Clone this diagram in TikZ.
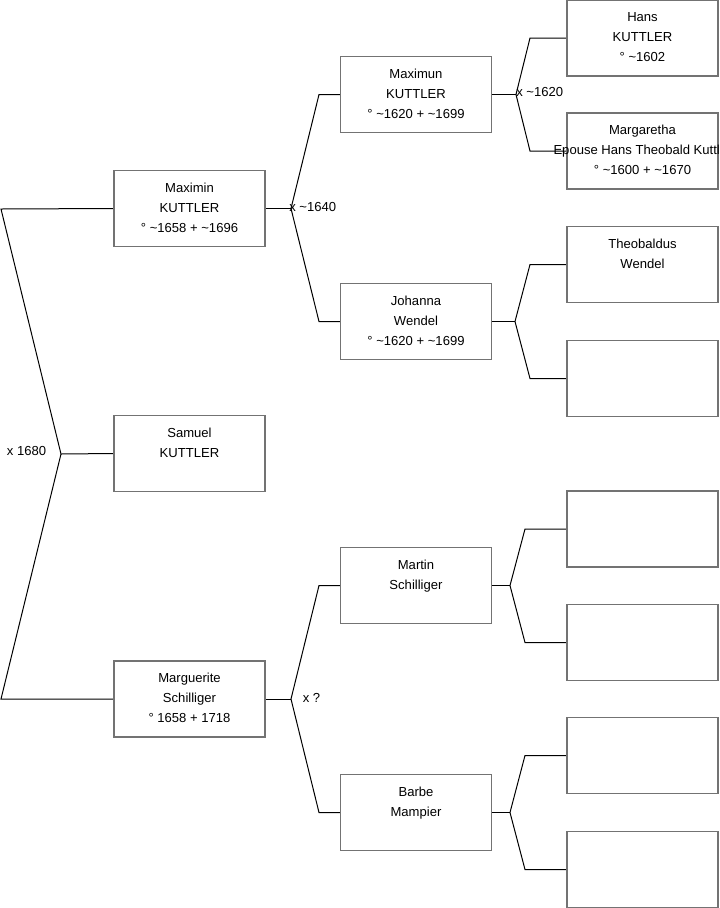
\documentclass[tikz,border=0pt]{standalone}
\usepackage{fontspec}
\setmainfont{Liberation Sans}
\usepackage{tikz}
\pgfdeclarelayer{edgelayer}
\pgfdeclarelayer{nodelayer}
\pgfsetlayers{edgelayer,nodelayer,main}
\tikzstyle{edge}=[draw=black, line width=0.75pt]
\tikzstyle{person}=[rectangle, draw=black!55, line width=1pt, minimum width=113.25pt, minimum height=57pt, inner sep=0pt]
\tikzstyle{persontext}=[align=center, anchor=north, inner sep=0pt, font=\fontsize{9.8pt}{15pt}\selectfont]
\tikzstyle{marriage}=[inner sep=0pt, font=\fontsize{9.8pt}{11pt}\selectfont]
\newcommand{\ca}{\textasciitilde}

\begin{document}
\begin{tikzpicture}[x=0.75pt, y=-0.75pt]
				\useasboundingbox (0, 0) rectangle (719, 908);
				\begin{pgfonlayer}{nodelayer}
					\node [style=person] (0) at (189.5, 208.5) {};
					\node [style=person] (1) at (189.5, 453.5) {};
					\node [style=person] (2) at (189.5, 699) {};
					\node [style=person] (3) at (416, 94.5) {};
					\node [style=person] (4) at (416, 321.5) {};
					\node [style=person] (5) at (416, 585.5) {};
					\node [style=person] (6) at (416, 812.5) {};
					\node [style=person] (7) at (642.5, 38) {};
					\node [style=person] (8) at (642.5, 151) {};
					\node [style=person] (9) at (642.5, 264.5) {};
					\node [style=person] (10) at (642.5, 378.5) {};
					\node [style=person] (11) at (642.5, 529) {};
					\node [style=person] (12) at (642.5, 642.5) {};
					\node [style=person] (13) at (642.5, 755.5) {};
					\node [style=person] (14) at (642.5, 869.5) {};
					\node [style=persontext] (n0) at (189.5, 182.5) {Maximin\\KUTTLER\\° \ca1658 + \ca1696};
					\node [style=persontext] (n1) at (189.5, 427.5) {Samuel\\KUTTLER};
					\node [style=persontext] (n2) at (189.5, 673) {Marguerite\\Schilliger\\° 1658 + 1718};
					\node [style=persontext] (n3) at (416, 68.5) {Maximun\\KUTTLER\\° \ca1620 + \ca1699};
					\node [style=persontext] (n4) at (416, 295.5) {Johanna\\Wendel\\° \ca1620 + \ca1699};
					\node [style=persontext] (n5) at (416, 559.5) {Martin\\Schilliger};
					\node [style=persontext] (n6) at (416, 786.5) {Barbe\\Mampier};
					\node [style=persontext] (n7) at (642.5, 12) {Hans\\KUTTLER\\° \ca1602};
					\node [style=persontext] (n8) at (642.5, 125) {Margaretha\\Epouse Hans Theobald Kuttler\\° \ca1600 + \ca1670};
					\node [style=persontext] (n9) at (642.5, 238.5) {Theobaldus\\Wendel};
					\node [style=marriage] (u0) at (26.5, 451) {x 1680};
					\node [style=marriage, anchor=west] (u1) at (289, 207) {x \ca1640};
					\node [style=marriage, anchor=west] (u2) at (516, 92) {x \ca1620};
					\node [style=marriage] (u3) at (311.5, 698) {x ?};
				\end{pgfonlayer}
				\begin{pgfonlayer}{edgelayer}
					\coordinate (a0) at (1, 209);
					\coordinate (v0) at (61, 454);
					\coordinate (b0) at (1, 699);
					\coordinate (v1) at (291, 208.5);
					\coordinate (a1) at (319, 94.5);
					\coordinate (b1) at (319, 321.5);
					\coordinate (v2) at (291, 699);
					\coordinate (a2) at (319, 585.5);
					\coordinate (b2) at (319, 812.5);
					\coordinate (v3) at (516, 94.5);
					\coordinate (a3) at (530, 38);
					\coordinate (b3) at (530, 151);
					\coordinate (v4) at (515, 321.5);
					\coordinate (a4) at (530, 264.5);
					\coordinate (b4) at (530, 378.5);
					\coordinate (v5) at (510, 585.5);
					\coordinate (a5) at (525, 529);
					\coordinate (b5) at (525, 642.5);
					\coordinate (v6) at (510, 812.5);
					\coordinate (a6) at (525, 755.5);
					\coordinate (b6) at (525, 869.5);
					\draw [style=edge] (0.west) -- (a0) -- (v0) -- (b0) -- (2.west);
					\draw [style=edge] (v0) -- (1.west);
					\draw [style=edge] (3.west) -- (a1) -- (v1) -- (b1) -- (4.west);
					\draw [style=edge] (v1) -- (0.east);
					\draw [style=edge] (5.west) -- (a2) -- (v2) -- (b2) -- (6.west);
					\draw [style=edge] (v2) -- (2.east);
					\draw [style=edge] (7.west) -- (a3) -- (v3) -- (b3) -- (8.west);
					\draw [style=edge] (v3) -- (3.east);
					\draw [style=edge] (9.west) -- (a4) -- (v4) -- (b4) -- (10.west);
					\draw [style=edge] (v4) -- (4.east);
					\draw [style=edge] (11.west) -- (a5) -- (v5) -- (b5) -- (12.west);
					\draw [style=edge] (v5) -- (5.east);
					\draw [style=edge] (13.west) -- (a6) -- (v6) -- (b6) -- (14.west);
					\draw [style=edge] (v6) -- (6.east);
				\end{pgfonlayer}
			\end{tikzpicture}
\end{document}
